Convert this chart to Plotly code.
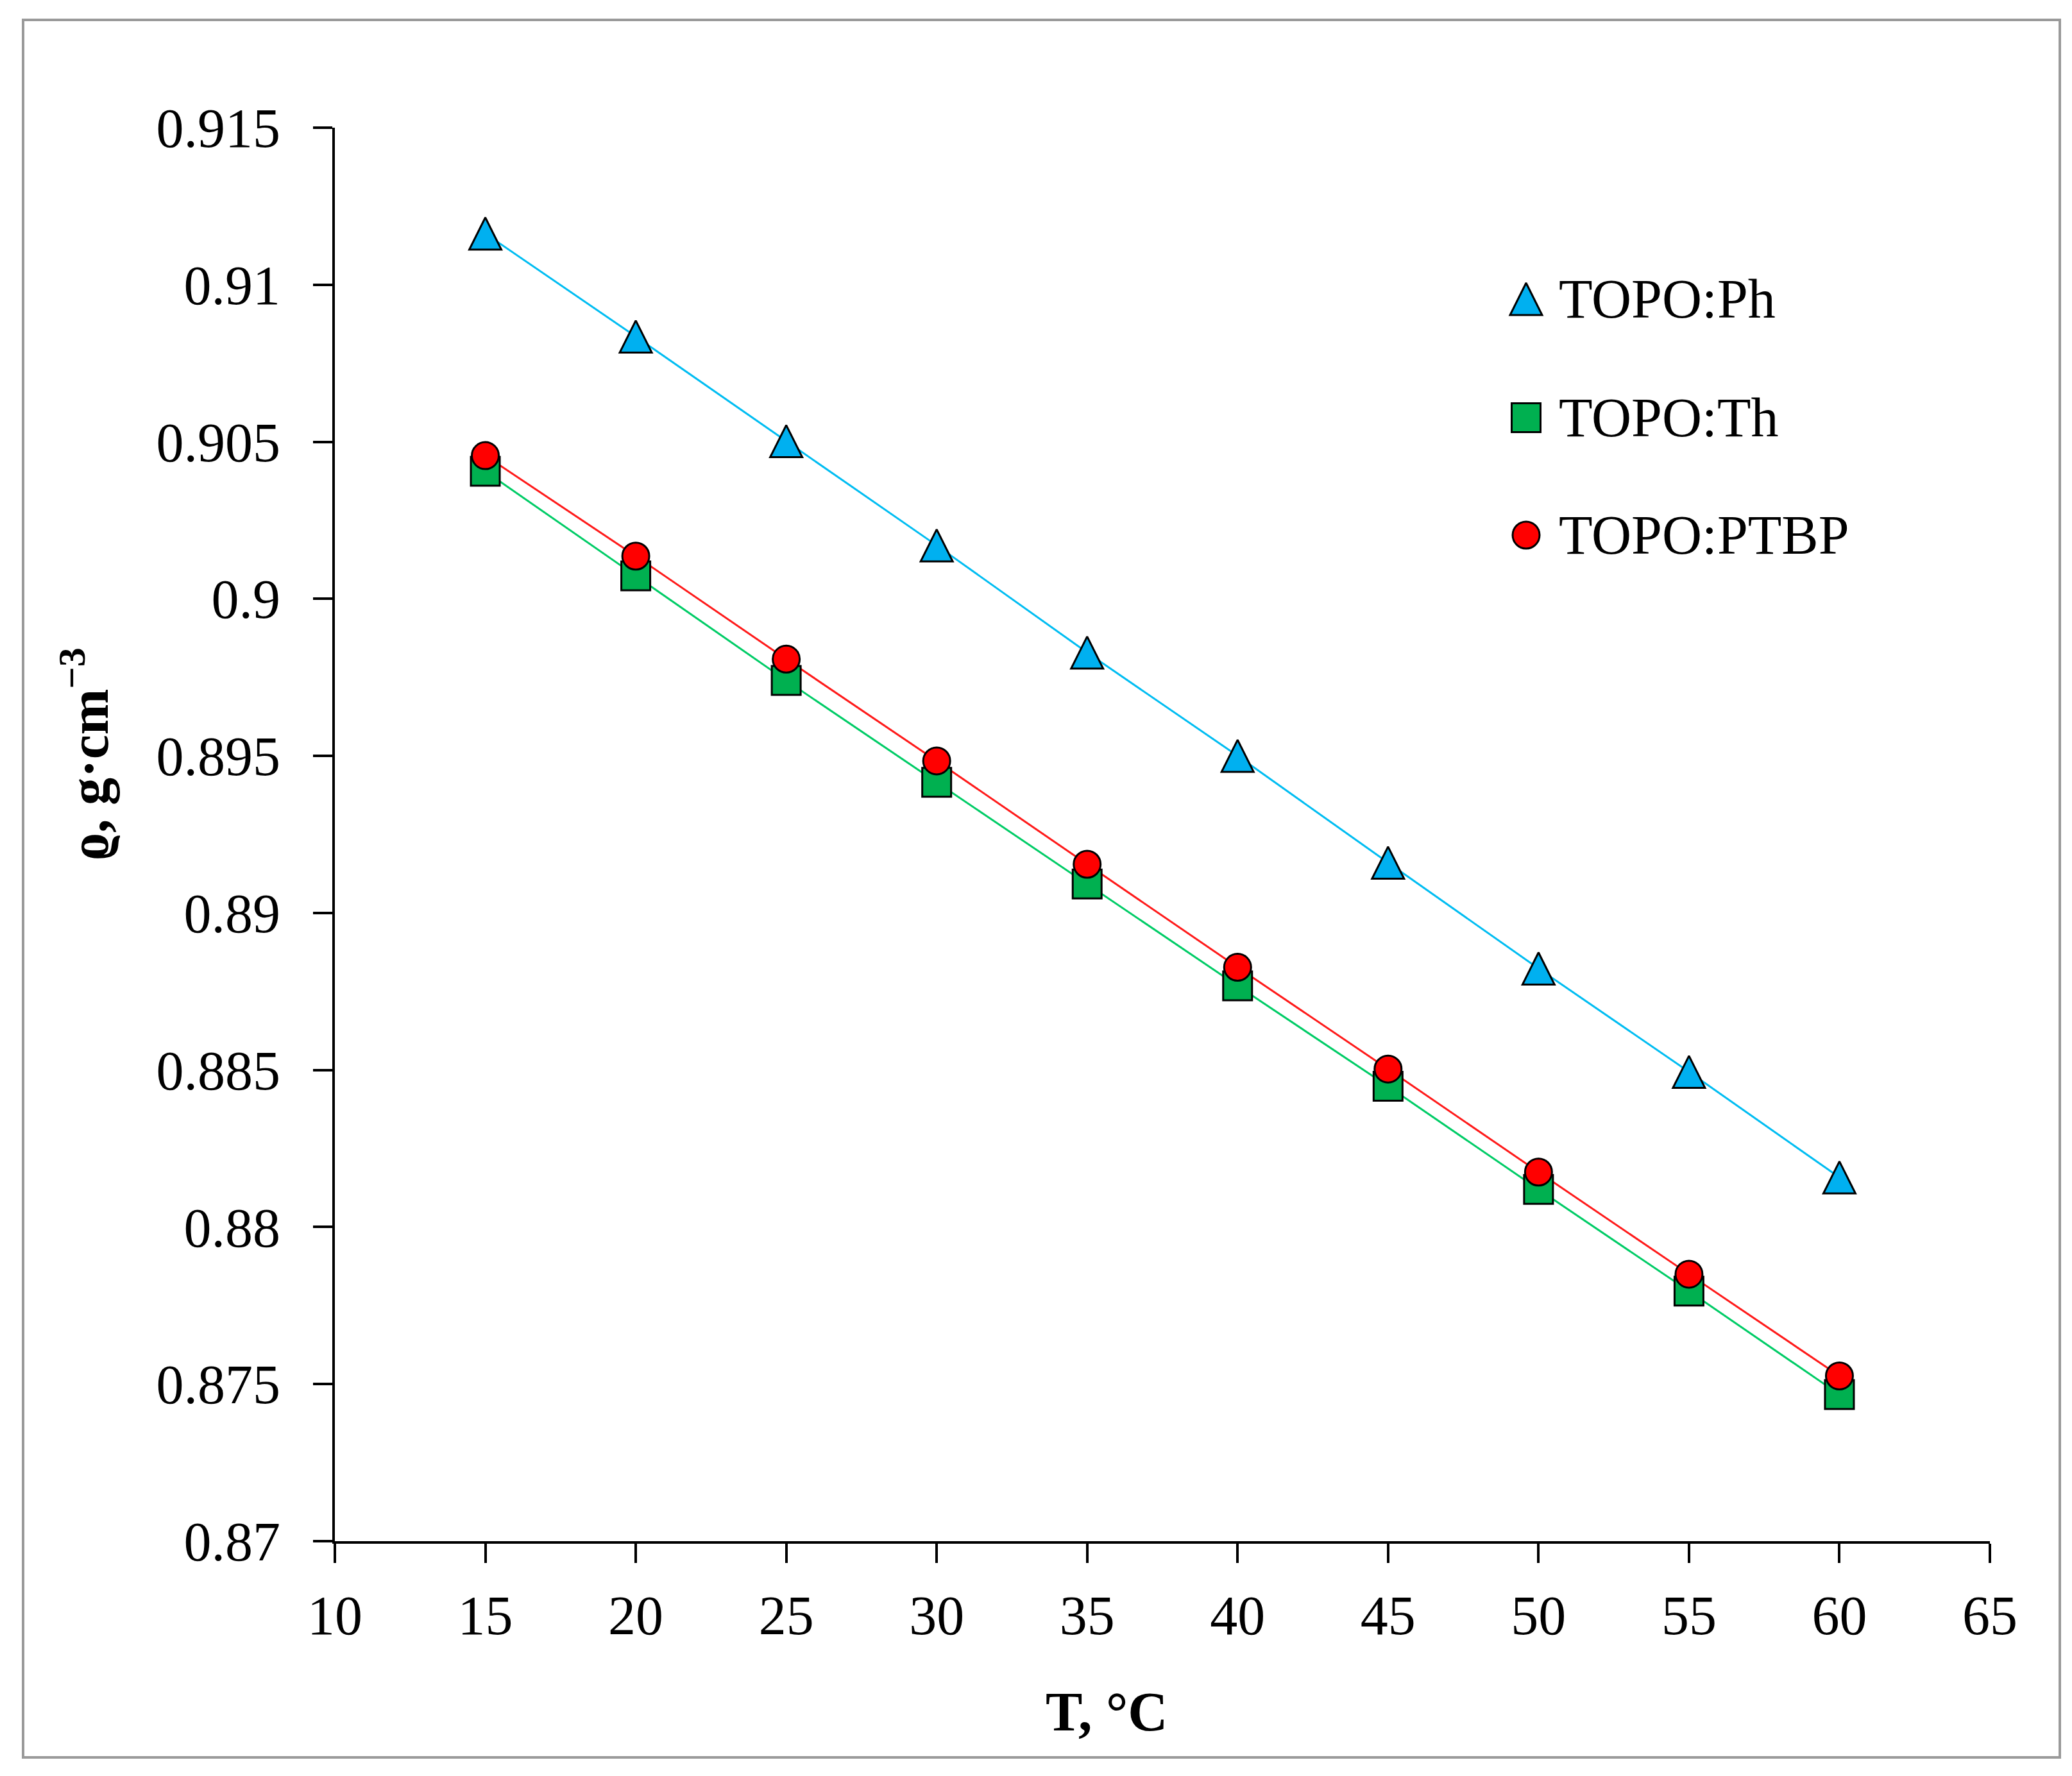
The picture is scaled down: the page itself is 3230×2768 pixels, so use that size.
import plotly.graph_objects as go

# ---------------- data ----------------
T = [15, 20, 25, 30, 35, 40, 45, 50, 55, 60]
rho_ph = [0.91163, 0.90835, 0.90502, 0.90170, 0.89829, 0.89500, 0.89160, 0.88823, 0.88494, 0.88158]
rho_th = [0.90406, 0.90073, 0.89740, 0.89416, 0.89092, 0.88768, 0.88448, 0.88120, 0.87796, 0.87467]
rho_ptbp = [0.90456, 0.90136, 0.89808, 0.89484, 0.89155, 0.88827, 0.88503, 0.88175, 0.87850, 0.87526]

series_names = ["TOPO:Ph", "TOPO:Th", "TOPO:PTBP"]

x_tickvals = [10, 15, 20, 25, 30, 35, 40, 45, 50, 55, 60, 65]
x_ticktext = ["10", "15", "20", "25", "30", "35", "40", "45", "50", "55", "60", "65"]
y_tickvals = [0.87, 0.875, 0.88, 0.885, 0.89, 0.895, 0.9, 0.905, 0.91, 0.915]
y_ticktext = ["0.87", "0.875", "0.88", "0.885", "0.89", "0.895", "0.9", "0.905", "0.91", "0.915"]

x_title = "<b>T, °C</b>"
y_title = "<b>ϱ, g·cm<sup>−3</sup></b>"

# ---------------- layout geometry (page pixels) ----------------
W, H = 3230, 2768
OFF = 8  # page body margin
PX0, PX1 = 522, 3102   # plot area left / right on page
PY0, PY1 = 199, 2402   # plot area top / bottom on page
ML = PX0 - OFF
MT = PY0 - OFF
MR = W - (PX1 - OFF)
MB = H - (PY1 - OFF)
PW, PH = PX1 - PX0, PY1 - PY0
XR = [10, 65]
YR = [0.87, 0.915]


def px(xp):
    return (xp - PX0) / PW


def py(yp):
    return (PY1 - yp) / PH


FONT = "Liberation Serif"
FS = 86

TRI_SIZE = 50
SQ_SIZE = 45
CIR_SIZE = 42
MLW = 3

# shift so that arrow-up (tip at data point) is centred on the point
shift = (TRI_SIZE / 2) / PH * (YR[1] - YR[0])
shift_leg = (TRI_SIZE / 2) / PH

c_ph_line, c_ph_fill = "#00BDF2", "#00B0F0"
c_th_line, c_th_fill = "#00CC66", "#00B050"
c_pt_line, c_pt_fill = "#FF1A1A", "#FF0000"

fig = go.Figure()

# lines first
for y, col in [(rho_ph, c_ph_line), (rho_th, c_th_line), (rho_ptbp, c_pt_line)]:
    fig.add_trace(go.Scatter(x=T, y=y, mode="lines", line=dict(color=col, width=3),
                             showlegend=False, hoverinfo="skip"))

# markers
fig.add_trace(go.Scatter(x=T, y=rho_ph, mode="markers", yaxis="y2", name=series_names[0],
                         marker=dict(symbol="arrow-up", size=TRI_SIZE, color=c_ph_fill,
                                     line=dict(color="black", width=MLW)), showlegend=False))
fig.add_trace(go.Scatter(x=T, y=rho_th, mode="markers", name=series_names[1],
                         marker=dict(symbol="square", size=SQ_SIZE, color=c_th_fill,
                                     line=dict(color="black", width=MLW)), showlegend=False))
fig.add_trace(go.Scatter(x=T, y=rho_ptbp, mode="markers", name=series_names[2],
                         marker=dict(symbol="circle", size=CIR_SIZE, color=c_pt_fill,
                                     line=dict(color="black", width=MLW)), showlegend=False))

# custom legend
leg_x = px(2379)
leg_y = [py(466), py(651), py(834)]
leg_syms = [("arrow-up", TRI_SIZE, c_ph_fill), ("square", SQ_SIZE, c_th_fill), ("circle", CIR_SIZE, c_pt_fill)]
for i, (sym, sz, col) in enumerate(leg_syms):
    yy = leg_y[i] + (shift_leg if sym == "arrow-up" else 0)
    fig.add_trace(go.Scatter(x=[leg_x], y=[yy], mode="markers", xaxis="x3", yaxis="y3",
                             marker=dict(symbol=sym, size=sz, color=col,
                                         line=dict(color="black", width=MLW)),
                             showlegend=False, hoverinfo="skip", cliponaxis=False))
    fig.add_annotation(x=px(2428), y=leg_y[i], xref="paper", yref="paper",
                       text=series_names[i], showarrow=False, xanchor="left", yanchor="middle",
                       font=dict(family=FONT, size=FS, color="black"))

axis_common = dict(showgrid=False, zeroline=False, showline=True, linecolor="black", linewidth=3.5,
                   ticks="outside", ticklen=30, tickwidth=3.5, tickcolor="black",
                   tickfont=dict(family=FONT, size=FS, color="black"), mirror=False)

fig.update_layout(
    width=W, height=H,
    margin=dict(l=ML, r=MR, t=MT, b=MB, pad=0),
    paper_bgcolor="white", plot_bgcolor="white",
    showlegend=False,
    xaxis=dict(range=XR, tickvals=x_tickvals, ticktext=x_ticktext, ticklabelstandoff=8, **axis_common),
    yaxis=dict(range=YR, tickvals=y_tickvals, ticktext=y_ticktext, ticklabelstandoff=34, **axis_common),
    yaxis2=dict(range=[YR[0] - shift, YR[1] - shift], overlaying="y", visible=False),
    xaxis3=dict(range=[0, 1], overlaying="x", visible=False),
    yaxis3=dict(range=[0, 1], overlaying="y", visible=False),
)

# axis titles
fig.add_annotation(x=px(1725), y=py(2668), xref="paper", yref="paper",
                   text=x_title, showarrow=False, xanchor="center", yanchor="middle",
                   font=dict(family=FONT, size=FS, color="black"))
fig.add_annotation(x=px(132), y=py(1175), xref="paper", yref="paper",
                   text=y_title, showarrow=False, textangle=-90, xanchor="center", yanchor="middle",
                   font=dict(family=FONT, size=FS, color="black"))

# outer frame
fig.add_shape(type="rect", xref="paper", yref="paper",
              x0=px(36), x1=px(3211), y0=py(2739), y1=py(31),
              line=dict(color="#9A9A9A", width=4), fillcolor="rgba(0,0,0,0)", layer="below")

fig.write_html("out.html")
